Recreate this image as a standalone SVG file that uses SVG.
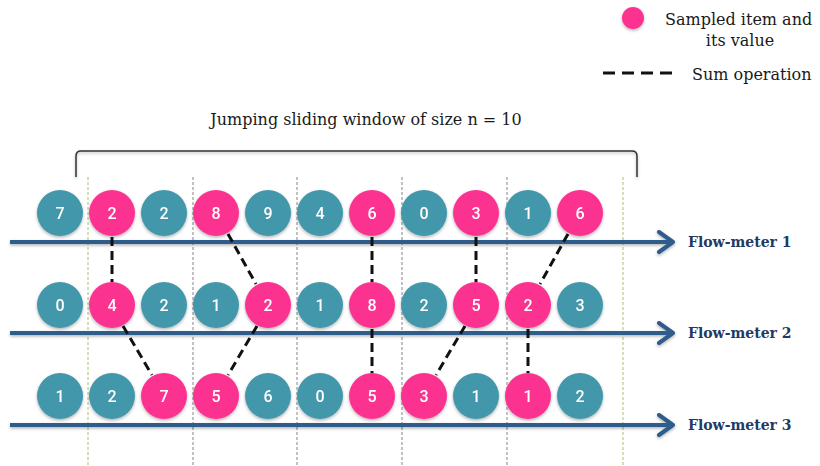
<svg xmlns="http://www.w3.org/2000/svg" width="820" height="466" viewBox="0 0 820 466">
<style>
.t{fill:#4297aa}
.p{fill:#fc3390}
.n text{font-family:Roboto,"Open Sans",sans-serif;font-size:16px;font-weight:500;fill:#fff;text-anchor:middle}
.lbl{font-family:"DejaVu Serif","Liberation Serif",serif;font-weight:bold;font-size:14px;fill:#1f3a63}
.txt{font-family:"DejaVu Serif","Liberation Serif",serif;font-size:16px;fill:#1a1a1a}
.sum{stroke:#111;stroke-width:3;stroke-dasharray:9 5;fill:none}
.axis{stroke:#2f5d8c;stroke-width:4;fill:none}
.vg{stroke:#9a9a9a;stroke-width:1.2;stroke-dasharray:3 2}
.vy{stroke:#c3d69b;stroke-width:1.5;stroke-dasharray:3 2}
</style>
<defs>
<filter id="sh" x="-30%" y="-30%" width="160%" height="160%">
<feDropShadow dx="0" dy="1.5" stdDeviation="1.5" flood-color="#000" flood-opacity="0.3"/>
</filter>
<filter id="shu" filterUnits="userSpaceOnUse" x="0" y="0" width="820" height="466">
<feDropShadow dx="0" dy="1.5" stdDeviation="1.5" flood-color="#000" flood-opacity="0.3"/>
</filter>
<marker id="ah" viewBox="0 0 20 24" refX="17" refY="12" markerWidth="20" markerHeight="24" markerUnits="userSpaceOnUse" orient="auto">
<path d="M3,2 L17,12 L3,22" fill="none" stroke="#2f5d8c" stroke-width="4" stroke-linecap="round" stroke-linejoin="round"/>
</marker>
</defs>

<g id="legend">
<circle cx="633" cy="18" r="11" class="p" filter="url(#sh)"/>
<text class="txt" x="665" y="25">Sampled item and</text>
<text class="txt" x="740" y="46" text-anchor="middle">its value</text>
<line x1="603" y1="73" x2="675" y2="73" stroke="#111" stroke-width="3" stroke-dasharray="12 7"/>
<text class="txt" x="692" y="80">Sum operation</text>
</g>

<g id="window">
<text class="txt" x="366" y="125" text-anchor="middle">Jumping sliding window of size n = 10</text>
<path d="M76,177 L76,156 Q76,151 81,151 L632,151 Q637,151 637,156 L637,177" fill="none" stroke="#333" stroke-width="1.5" filter="url(#shu)"/>
</g>

<g id="dividers">
<line class="vy" x1="88" y1="177" x2="88" y2="466"/>
<line class="vg" x1="193" y1="177" x2="193" y2="466"/>
<line class="vg" x1="297" y1="177" x2="297" y2="466"/>
<line class="vg" x1="402" y1="177" x2="402" y2="466"/>
<line class="vg" x1="507" y1="177" x2="507" y2="466"/>
<line class="vy" x1="623" y1="177" x2="623" y2="466"/>
</g>

<g id="axes" filter="url(#shu)">
<line class="axis" x1="10" y1="242" x2="673" y2="242" marker-end="url(#ah)"/>
<line class="axis" x1="10" y1="333" x2="673" y2="333" marker-end="url(#ah)"/>
<line class="axis" x1="10" y1="425" x2="673" y2="425" marker-end="url(#ah)"/>
</g>
<g id="labels">
<text class="lbl" x="688" y="247">Flow-meter 1</text>
<text class="lbl" x="688" y="338">Flow-meter 2</text>
<text class="lbl" x="688" y="430">Flow-meter 3</text>
</g>

<g id="connectors">
<line class="sum" x1="112" y1="237" x2="112" y2="282"/>
<line class="sum" x1="228" y1="234" x2="256" y2="284"/>
<line class="sum" x1="372" y1="237" x2="372" y2="282"/>
<line class="sum" x1="476" y1="237" x2="476" y2="282"/>
<line class="sum" x1="568" y1="234" x2="540" y2="284"/>
<line class="sum" x1="123" y1="326" x2="152" y2="375"/>
<line class="sum" x1="257" y1="326" x2="228" y2="375"/>
<line class="sum" x1="372" y1="329" x2="372" y2="373"/>
<line class="sum" x1="465" y1="326" x2="436" y2="375"/>
<line class="sum" x1="528" y1="329" x2="528" y2="373"/>
</g>

<g id="row1" filter="url(#sh)">
<g id="r1n0" class="n"><circle cx="60" cy="213" r="23" class="t"/><text x="60" y="219">7</text></g>
<g id="r1n1" class="n"><circle cx="112" cy="213" r="23" class="p"/><text x="112" y="219">2</text></g>
<g id="r1n2" class="n"><circle cx="164" cy="213" r="23" class="t"/><text x="164" y="219">2</text></g>
<g id="r1n3" class="n"><circle cx="216" cy="213" r="23" class="p"/><text x="216" y="219">8</text></g>
<g id="r1n4" class="n"><circle cx="268" cy="213" r="23" class="t"/><text x="268" y="219">9</text></g>
<g id="r1n5" class="n"><circle cx="320" cy="213" r="23" class="t"/><text x="320" y="219">4</text></g>
<g id="r1n6" class="n"><circle cx="372" cy="213" r="23" class="p"/><text x="372" y="219">6</text></g>
<g id="r1n7" class="n"><circle cx="424" cy="213" r="23" class="t"/><text x="424" y="219">0</text></g>
<g id="r1n8" class="n"><circle cx="476" cy="213" r="23" class="p"/><text x="476" y="219">3</text></g>
<g id="r1n9" class="n"><circle cx="528" cy="213" r="23" class="t"/><text x="528" y="219">1</text></g>
<g id="r1n10" class="n"><circle cx="580" cy="213" r="23" class="p"/><text x="580" y="219">6</text></g>
</g>

<g id="row2" filter="url(#sh)">
<g id="r2n0" class="n"><circle cx="60" cy="305" r="23" class="t"/><text x="60" y="311">0</text></g>
<g id="r2n1" class="n"><circle cx="112" cy="305" r="23" class="p"/><text x="112" y="311">4</text></g>
<g id="r2n2" class="n"><circle cx="164" cy="305" r="23" class="t"/><text x="164" y="311">2</text></g>
<g id="r2n3" class="n"><circle cx="216" cy="305" r="23" class="t"/><text x="216" y="311">1</text></g>
<g id="r2n4" class="n"><circle cx="268" cy="305" r="23" class="p"/><text x="268" y="311">2</text></g>
<g id="r2n5" class="n"><circle cx="320" cy="305" r="23" class="t"/><text x="320" y="311">1</text></g>
<g id="r2n6" class="n"><circle cx="372" cy="305" r="23" class="p"/><text x="372" y="311">8</text></g>
<g id="r2n7" class="n"><circle cx="424" cy="305" r="23" class="t"/><text x="424" y="311">2</text></g>
<g id="r2n8" class="n"><circle cx="476" cy="305" r="23" class="p"/><text x="476" y="311">5</text></g>
<g id="r2n9" class="n"><circle cx="528" cy="305" r="23" class="p"/><text x="528" y="311">2</text></g>
<g id="r2n10" class="n"><circle cx="580" cy="305" r="23" class="t"/><text x="580" y="311">3</text></g>
</g>

<g id="row3" filter="url(#sh)">
<g id="r3n0" class="n"><circle cx="60" cy="396" r="23" class="t"/><text x="60" y="402">1</text></g>
<g id="r3n1" class="n"><circle cx="112" cy="396" r="23" class="t"/><text x="112" y="402">2</text></g>
<g id="r3n2" class="n"><circle cx="164" cy="396" r="23" class="p"/><text x="164" y="402">7</text></g>
<g id="r3n3" class="n"><circle cx="216" cy="396" r="23" class="p"/><text x="216" y="402">5</text></g>
<g id="r3n4" class="n"><circle cx="268" cy="396" r="23" class="t"/><text x="268" y="402">6</text></g>
<g id="r3n5" class="n"><circle cx="320" cy="396" r="23" class="t"/><text x="320" y="402">0</text></g>
<g id="r3n6" class="n"><circle cx="372" cy="396" r="23" class="p"/><text x="372" y="402">5</text></g>
<g id="r3n7" class="n"><circle cx="424" cy="396" r="23" class="p"/><text x="424" y="402">3</text></g>
<g id="r3n8" class="n"><circle cx="476" cy="396" r="23" class="t"/><text x="476" y="402">1</text></g>
<g id="r3n9" class="n"><circle cx="528" cy="396" r="23" class="p"/><text x="528" y="402">1</text></g>
<g id="r3n10" class="n"><circle cx="580" cy="396" r="23" class="t"/><text x="580" y="402">2</text></g>
</g>
</svg>
